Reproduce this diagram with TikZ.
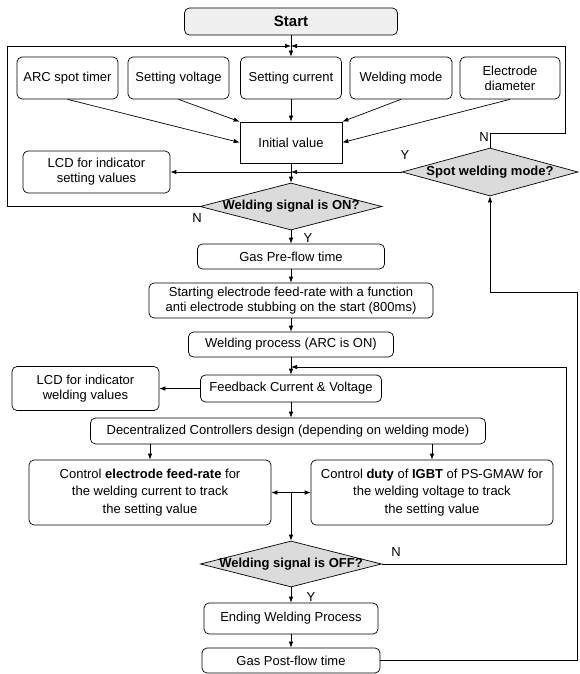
\documentclass[tikz,border=0pt]{standalone}
\usepackage{fontspec}
\setmainfont{Liberation Sans}
\usetikzlibrary{shapes.geometric,arrows.meta}
\begin{document}
\begin{tikzpicture}[x=1pt,y=-1pt,line width=0.7pt,>={Latex[length=6pt,width=4.5pt]},
  every node/.style={font=\fontsize{13}{15}\selectfont,align=center,inner sep=1pt},
  box/.style n args={2}{draw,rounded corners=5pt,minimum width=#1,minimum height=#2},
  ask/.style n args={2}{draw,diamond,fill=gray!28,shape aspect=3.8,inner sep=-4pt,
    minimum width=#1,minimum height=#2,font=\fontsize{13}{15}\selectfont\bfseries}]
\useasboundingbox (0,0) rectangle (580,674);
\node[box={213pt}{27pt},fill=gray!12,font=\fontsize{15}{17}\selectfont\bfseries] (start) at (291,21.5) {Start};
\node[box={101pt}{42pt}] (timer) at (67.5,78) {ARC spot timer};
\node[box={101pt}{42pt}] (volt) at (178.5,78) {Setting voltage};
\node[box={101pt}{42pt}] (curr) at (291,78) {Setting current};
\node[box={102pt}{42pt}] (mode) at (401,78) {Welding mode};
\node[box={100pt}{42pt}] (diam) at (510,78) {Electrode\\diameter};
\node[draw,minimum width=102pt,minimum height=41pt] (init) at (291,142.5) {Initial value};
\node[box={147pt}{42pt}] (lcd1) at (96.5,172) {LCD for indicator\\setting values};
\node[ask={176pt}{48pt}] (spot) at (490,172) {Spot welding mode?};
\node[ask={182pt}{47pt}] (on) at (291,206.5) {Welding signal is ON?};
\node[box={187pt}{25pt}] (pre) at (291,256.5) {Gas Pre-flow time};
\node[box={284pt}{35pt}] (feed) at (291,300.5) {Starting electrode feed-rate with a function\\anti electrode stubbing on the start (800ms)};
\node[box={205pt}{25pt}] (proc) at (291,344.5) {Welding process (ARC is ON)};
\node[box={181pt}{27pt}] (fb) at (291,388.5) {Feedback Current \& Voltage};
\node[box={147pt}{44pt}] (lcd2) at (85.5,388.5) {LCD for indicator\\welding values};
\node[box={395pt}{26pt}] (dsgn) at (288,431) {Decentralized Controllers design (depending on welding mode)};
\node[box={242pt}{65pt},font=\fontsize{13}{17.5}\selectfont] (ctlI) at (150,492.5) {Control \textbf{electrode feed-rate} for\\the welding current to track\\the setting value};
\node[box={242pt}{65pt},font=\fontsize{13}{17.5}\selectfont] (ctlV) at (432,492.5) {Control \textbf{duty} of \textbf{IGBT} of PS-GMAW for\\the welding voltage to track\\the setting value};
\node[ask={181pt}{46pt}] (off) at (291,564) {Welding signal is OFF?};
\node[box={174pt}{31pt}] (endp) at (291,618.5) {Ending Welding Process};
\node[box={178pt}{25pt}] (post) at (291,660.5) {Gas Post-flow time};
\node (n1) at (484,137) {N};
\node (y1) at (405,155) {Y};
\node (n2) at (197,218) {N};
\node (y2) at (308,238) {Y};
\node (n3) at (396,552) {N};
\node (y3) at (311,597) {Y};
\coordinate (m1) at (291,46);
\coordinate (f1) at (7,206.5);
\coordinate (f2) at (565,133);
\coordinate (j1) at (291,172);
\coordinate (j2) at (291,492.5);
\coordinate (j3) at (291,367);
\coordinate (r1) at (566,367);
\coordinate (r2) at (577,292);
\draw (start) -- (m1);
\draw[->] (on.west) -- (f1) |- (m1);
\draw[->] (spot.north) |- (f2) |- (m1);
\draw[->] (m1) -- (curr);
\draw[->] (timer.south) -- (init.west);
\draw[->] (volt.south) -- (init.north west);
\draw[->] (curr) -- (init);
\draw[->] (mode.south) -- (init.north east);
\draw[->] (diam.south) -- (init.east);
\draw[->] (init) -- (on);
\draw[->] (spot.west) -- (j1);
\draw[->] (j1) -- (lcd1.east);
\draw[->] (on) -- (pre);
\draw[->] (pre) -- (feed);
\draw[->] (feed) -- (proc);
\draw[->] (proc) -- (fb);
\draw[->] (off.east) -| (r1) -- (j3);
\draw[->] (fb.west) -- (lcd2.east);
\draw[->] (fb) -- (fb |- dsgn.north);
\draw[->] (dsgn.south -| ctlI) -- (ctlI);
\draw[->] (dsgn.south -| ctlV) -- (ctlV);
\draw[<->] (ctlI.east) -- (ctlV.west);
\draw[->] (j2) -- (off);
\draw[->] (off) -- (endp);
\draw[->] (endp) -- (post);
\draw[->] (post.east) -| (r2) -| (spot.south);
\end{tikzpicture}
\end{document}
